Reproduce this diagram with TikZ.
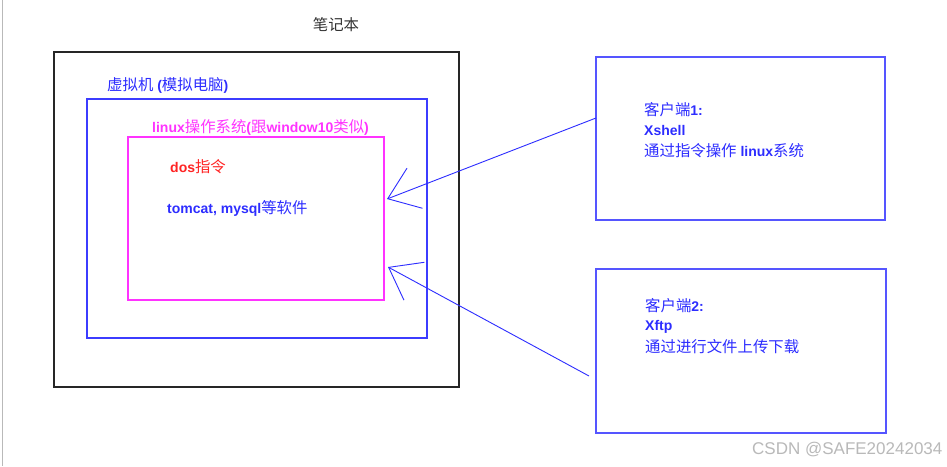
\documentclass[tikz,border=0pt]{standalone}
\usepackage{fontspec}
\setmainfont{Liberation Sans}
\newfontfamily\cjk[Scale=1.1]{Noto Sans CJK SC}
\usetikzlibrary{arrows.meta}
\definecolor{myblue}{RGB}{45,45,255}
\definecolor{vmblue}{RGB}{60,60,255}
\definecolor{boxblue}{RGB}{85,85,255}
\definecolor{mymag}{RGB}{255,51,255}
\definecolor{myred}{RGB}{255,35,35}
\definecolor{wm}{RGB}{185,185,185}
\tikzset{
  framebox/.style={line width=1.3pt, minimum width=#1, anchor=north west, inner sep=0pt, outer sep=0pt},
  lbl/.style={anchor=west, inner sep=0pt, font=\fontsize{14}{17}\selectfont},
  conn/.style={draw=myblue, line width=0.9pt, -{Straight Barb[length=29pt,width=43pt]}}
}
\begin{document}
\begin{tikzpicture}[x=1pt,y=-1pt]
\useasboundingbox (0,0) rectangle (947,466);
\fill[white] (0,0) rectangle (947,466);
\draw[wm, line width=1.5pt] (2.7,0) -- (2.7,466);
% frames
\node[framebox=405pt, minimum height=335pt, draw=black!85] (laptop) at (54,52) {};
\node[framebox=289pt, minimum height=163pt, draw=boxblue] (box1) at (596,57) {};
\node[framebox=290pt, minimum height=164pt, draw=boxblue] (box2) at (596,269) {};
\node[framebox=340pt, minimum height=239pt, draw=vmblue] (vm) at (87,99) {};
\node[framebox=256pt, minimum height=163pt, draw=mymag] (os) at (128,137) {};
% labels
\node[lbl, anchor=center, text=black!80] (title) at (336,25) {{\cjk 笔记本}};
\node[lbl, text=myblue] (vmlbl) at (107,85) {{\cjk 虚拟机} \textbf{(}{\cjk 模拟电脑}\textbf{)}};
\node[lbl, text=mymag] (oslbl) at (152,127) {\textbf{linux}{\cjk 操作系统}\textbf{(}{\cjk 跟}\textbf{window10}{\cjk 类似}\textbf{)}};
\node[lbl, text=myred] (dos) at (170,167) {\textbf{dos}{\cjk 指令}};
\node[lbl, text=myblue] (soft) at (167,208) {\textbf{tomcat, mysql}{\cjk 等软件}};
\node[lbl, text=myblue] (c1a) at (644,109.5) {{\cjk 客户端}\textbf{1:}};
\node[lbl, text=myblue] (c1b) at (644,130.5) {\textbf{Xshell}};
\node[lbl, text=myblue] (c1c) at (644,151) {{\cjk 通过指令操作} \textbf{linux}{\cjk 系统}};
\node[lbl, text=myblue] (c2a) at (645,306) {{\cjk 客户端}\textbf{2:}};
\node[lbl, text=myblue] (c2b) at (645,326.5) {\textbf{Xftp}};
\node[lbl, text=myblue] (c2c) at (645,347) {{\cjk 通过进行文件上传下载}};
\node[anchor=west, inner sep=0pt, text=wm, font=\fontsize{17}{20}\selectfont] (mark) at (752,450) {CSDN @SAFE20242034};
% connectors
\coordinate (a1s) at (596,118);
\coordinate (a1e) at (387,199);
\coordinate (a2s) at (589,376);
\coordinate (a2e) at (388,267);
\draw[conn] (a1s) -- (a1e);
\draw[conn] (a2s) -- (a2e);
\end{tikzpicture}
\end{document}
